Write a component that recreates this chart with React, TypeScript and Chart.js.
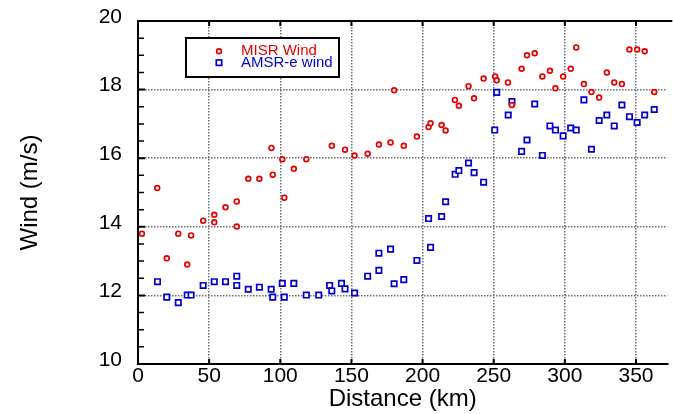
import React, { useEffect, useRef } from "react";
import { Chart, registerables } from "chart.js";

Chart.register(...registerables);

// MISR Wind: distance (km), wind (m/s)
const misrDistance = [
  2.75, 13.5, 20.2, 28.3, 34.6, 37.3, 45.8, 53.6, 53.6, 61.5, 69.4, 69.4, 77.5, 85.3, 93.8, 94.7,
  101.4, 102.8, 109.5, 118.3, 136.2, 145.5, 152.2, 161.4, 169.3, 177.5, 180.0, 186.8, 196.0,
  204.2, 205.6, 213.4, 216.2, 222.7, 225.5, 232.3, 236.2, 242.9, 251.0, 252.1, 260.0, 262.8,
  269.6, 273.4, 278.8, 284.2, 289.5, 293.4, 298.8, 304.1, 308.0, 313.4, 318.7, 324.1, 329.5,
  334.7, 340.1, 345.4, 350.8, 356.1, 362.8,
];
const misrWind = [
  13.8, 15.13, 13.08, 13.8, 12.9, 13.75, 14.18, 14.35, 14.13, 14.57, 14.74, 14.01, 15.4, 15.4, 16.3, 15.52,
  15.97, 14.85, 15.69, 15.97, 16.36, 16.25, 16.08, 16.13, 16.4, 16.46, 17.98, 16.36, 16.63,
  16.91, 17.02, 16.97, 16.81, 17.7, 17.53, 18.1, 17.75, 18.32, 18.38, 18.27, 18.21, 17.55,
  18.61, 19.0, 19.06, 18.38, 18.55, 18.04, 18.38, 18.61, 19.23, 18.16, 17.93, 17.77, 18.5,
  18.21, 18.16, 19.17, 19.17, 19.12, 17.93,
];

// AMSR-e wind: distance (km), wind (m/s)
const amsrDistance = [
  13.7, 20.2, 28.3, 34.6, 37.3, 45.8, 53.6, 61.5, 69.4, 69.4, 77.5, 85.3, 93.6, 94.7, 101.4, 102.8,
  109.5, 118.3, 127.0, 134.7, 136.2, 143.0, 145.5, 152.2, 161.4, 169.3, 169.3, 177.5, 180.0, 186.8,
  196.0, 204.2, 205.6, 213.4, 216.2, 222.9, 225.5, 232.3, 236.2, 242.9, 250.7, 252.1, 260.2,
  262.8, 269.6, 273.4, 278.8, 284.2, 289.5, 293.4, 298.8, 304.1, 308.0, 313.4, 318.7, 324.1,
  329.5, 334.7, 340.1, 345.4, 350.8, 356.1, 362.8,
];
const amsrWind = [
  12.4, 11.95, 11.79, 12.01, 12.01, 12.29, 12.4, 12.4, 12.56, 12.29, 12.18, 12.24, 12.18, 11.95, 12.35, 11.95,
  12.35, 12.01, 12.01, 12.29, 12.13, 12.35, 12.19, 12.07, 12.56, 13.23, 12.73, 13.35, 12.34, 12.46,
  13.02, 14.24, 13.4, 14.3, 14.73, 15.53, 15.64, 15.86, 15.58, 15.3, 16.82, 17.92, 17.26,
  17.65, 16.2, 16.53, 17.58, 16.08, 16.94, 16.82, 16.65, 16.88, 16.82, 17.7, 16.26, 17.1,
  17.26, 16.94, 17.55, 17.21, 17.04, 17.26, 17.42,
];

const seriesNames = ["MISR Wind", "AMSR-e wind"];
const xTicks = [0, 50, 100, 150, 200, 250, 300, 350];
const yMinorTicks = [10.5, 11, 11.5, 12.5, 13, 13.5, 14.5, 15, 15.5, 16.5, 17, 17.5, 18.5, 19, 19.5];
const yMajorTicks = [12, 14, 16, 18];

const RED = "rgb(230,0,0)";
const BLUE = "rgb(0,0,212)";
const FONT = "'Liberation Sans', Arial, sans-serif";

const framePlugin = {
  id: "frame",
  beforeDatasetsDraw(chart: any) {
    const { ctx, chartArea, scales } = chart;
    const { left, right, top, bottom } = chartArea;
    const x = scales.x;
    const y = scales.y;
    ctx.save();
    ctx.strokeStyle = "#000";
    ctx.lineWidth = 2;
    ctx.beginPath();
    ctx.moveTo(left - 1, top);
    ctx.lineTo(right + 5, top);
    ctx.stroke();
    ctx.beginPath();
    for (const v of xTicks) {
      const px = x.getPixelForValue(v);
      ctx.moveTo(px, top);
      ctx.lineTo(px, top + 5);
      ctx.moveTo(px, bottom);
      ctx.lineTo(px, bottom - 5);
    }
    for (const v of yMajorTicks) {
      const py = y.getPixelForValue(v);
      ctx.moveTo(left, py);
      ctx.lineTo(left + 7, py);
    }
    ctx.stroke();
    ctx.lineWidth = 1.5;
    ctx.beginPath();
    for (const v of yMinorTicks) {
      const py = y.getPixelForValue(v);
      ctx.moveTo(left, py);
      ctx.lineTo(left + 6, py);
    }
    ctx.stroke();
    ctx.restore();
  },
};

const legendPlugin = {
  id: "customLegend",
  afterDraw(chart: any) {
    const { ctx, chartArea } = chart;
    const bx = chartArea.left + 48;
    const by = chartArea.top + 17;
    const bw = 153;
    const bh = 39;
    ctx.save();
    ctx.fillStyle = "#fff";
    ctx.fillRect(bx, by, bw, bh);
    ctx.strokeStyle = "#000";
    ctx.lineWidth = 2;
    ctx.strokeRect(bx, by, bw, bh);
    ctx.font = `15px ${FONT}`;
    ctx.textBaseline = "middle";
    ctx.textAlign = "left";
    ctx.lineWidth = 1.7;
    ctx.strokeStyle = RED;
    ctx.beginPath();
    ctx.arc(bx + 33, by + 13.3, 2.4, 0, Math.PI * 2);
    ctx.stroke();
    ctx.fillStyle = RED;
    ctx.fillText(seriesNames[0], bx + 55, by + 12.5);
    ctx.strokeStyle = BLUE;
    ctx.strokeRect(bx + 30.3, by + 22, 5.4, 5.4);
    ctx.fillStyle = BLUE;
    ctx.fillText(seriesNames[1], bx + 55, by + 25);
    ctx.restore();
  },
};

export default function App() {
  const ref = useRef<HTMLCanvasElement>(null);
  useEffect(() => {
    const canvas = ref.current;
    if (!canvas) return;
    const zeroPad = (s: any) => {
      s.paddingTop = 0;
      s.paddingBottom = 0;
      s.paddingLeft = 0;
      s.paddingRight = 0;
    };
    const chart = new Chart(canvas, {
      type: "scatter",
      data: {
        datasets: [
          {
            label: seriesNames[0],
            data: misrDistance.map((d, i) => ({ x: d, y: misrWind[i] })),
            pointStyle: "circle",
            pointRadius: 2.4,
            borderColor: RED,
            backgroundColor: "#fff",
            borderWidth: 1.7,
          },
          {
            label: seriesNames[1],
            data: amsrDistance.map((d, i) => ({ x: d, y: amsrWind[i] })),
            pointStyle: "rect",
            pointRadius: 3.8,
            borderColor: BLUE,
            backgroundColor: "#fff",
            borderWidth: 1.7,
          },
        ],
      },
      options: {
        animation: false,
        responsive: false,
        devicePixelRatio: 1,
        layout: { padding: { top: 21, right: 0, bottom: 0, left: 0 } },
        plugins: { legend: { display: false }, tooltip: { enabled: false } },
        scales: {
          x: {
            type: "linear",
            min: 0,
            max: 372,
            afterFit: (s: any) => {
              s.height = 50;
              zeroPad(s);
            },
            ticks: {
              stepSize: 50,
              includeBounds: false,
              padding: 0,
              color: "#000",
              font: { family: FONT, size: 21 },
              maxRotation: 0,
            },
            grid: { color: "#6e6e6e", lineWidth: 1.5, drawTicks: false },
            border: { display: true, color: "#000", width: 2, dash: [1.5, 1.5] },
            title: {
              display: true,
              text: "Distance (km)",
              color: "#000",
              font: { family: FONT, size: 24, lineHeight: 1.2 },
              padding: { top: 0, bottom: 0 },
            },
          },
          y: {
            type: "linear",
            min: 10,
            max: 20,
            afterFit: (s: any) => {
              s.width = 138;
              zeroPad(s);
            },
            ticks: {
              stepSize: 2,
              padding: 16,
              labelOffset: -4,
              color: "#000",
              font: { family: FONT, size: 21 },
            },
            grid: { color: "#6e6e6e", lineWidth: 1.5, drawTicks: false },
            border: { display: true, color: "#000", width: 2, dash: [1.5, 1.5] },
            title: {
              display: true,
              text: "Wind (m/s)",
              color: "#000",
              font: { family: FONT, size: 24, lineHeight: 1.2 },
              padding: { top: 16, bottom: 0 },
            },
          },
        },
      },
      plugins: [framePlugin, legendPlugin],
    } as any);
    return () => chart.destroy();
  }, []);
  return (
    <div style={{ position: "fixed", left: 0, top: 0, width: 673, height: 414, background: "#fff" }}>
      <canvas ref={ref} width={673} height={414} style={{ display: "block" }} />
    </div>
  );
}
